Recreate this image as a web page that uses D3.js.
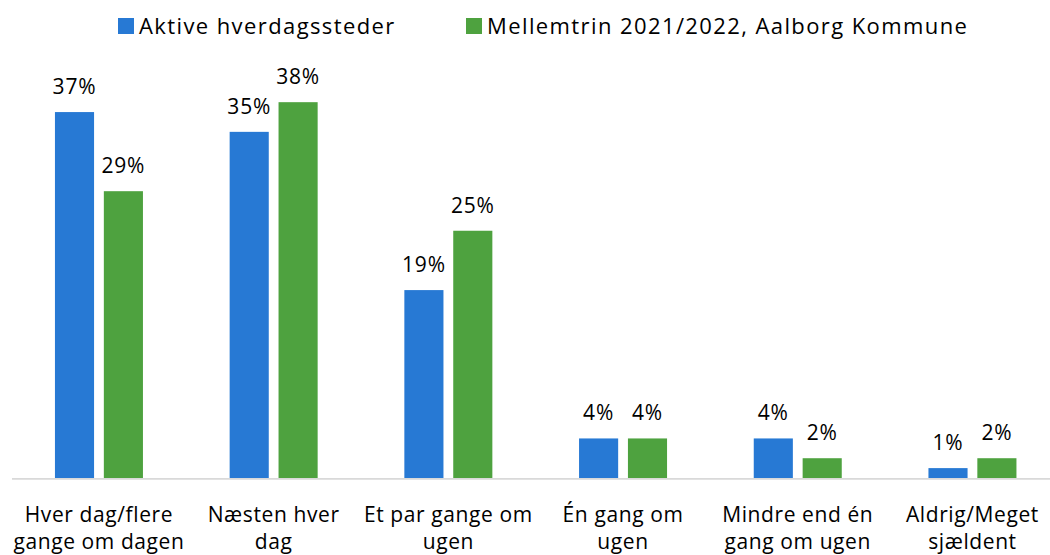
<!DOCTYPE html>
<html lang="da">
<head>
    <meta charset="UTF-8">
    <title>Aktive hverdagssteder</title>
    <style>
        body { margin: 0; background: #fff; }
        text { font-family: "Open Sans", sans-serif; fill: #000; }
    </style>
</head>
<body>
    <script src="https://d3js.org/d3.v7.min.js"></script>
    <script>
        // Data
        let categories = ["Hver dag/flere\ngange om dagen", "Næsten hver\ndag", "Et par gange om\nugen",
                          "Én gang om\nugen", "Mindre end én\ngang om ugen", "Aldrig/Meget\nsjældent"];
        let seriesNames = ["Aktive hverdagssteder", "Mellemtrin 2021/2022, Aalborg Kommune"];
        let aktiveValues = [37, 35, 19, 4, 4, 1];
        let mellemtrinValues = [29, 38, 25, 4, 2, 2];
        let colors = ["#2779d4", "#4ea23f"];

        let width = 1050, height = 555;
        let baseline = 478;

        let svg = d3.select('body')
            .append('svg')
            .attr('width', width)
            .attr('height', height);

        // Scales
        let x0 = d3.scaleBand()
            .domain(categories)
            .range([11.6, 1059.8]);

        let x1 = d3.scaleBand()
            .domain(seriesNames)
            .range([0, 88])
            .paddingInner(0.2);

        let y = d3.scaleLinear()
            .domain([0, 40])
            .range([baseline, 82.4]);

        let rows = categories.map(function(c, i) {
            return {cat: c, values: [aktiveValues[i], mellemtrinValues[i]]};
        });

        // Bars
        let groups = svg.selectAll('g.group')
            .data(rows)
            .enter()
            .append('g')
            .attr('class', 'group')
            .attr('transform', function(d) {
                return 'translate(' + (x0(d.cat) + x0.bandwidth() / 2 - 44) + ',0)';
            });

        groups.selectAll('rect')
            .data(function(d) { return d.values.map(function(v, j) { return {s: seriesNames[j], v: v, j: j}; }); })
            .enter()
            .append('rect')
            .attr('x', function(d) { return x1(d.s); })
            .attr('y', function(d) { return y(d.v); })
            .attr('width', x1.bandwidth())
            .attr('height', function(d) { return baseline - y(d.v); })
            .attr('fill', function(d) { return colors[d.j]; });

        // Value labels
        groups.selectAll('text.val')
            .data(function(d) { return d.values.map(function(v, j) { return {s: seriesNames[j], v: v}; }); })
            .enter()
            .append('text')
            .attr('class', 'val')
            .attr('x', function(d) { return x1(d.s) + x1.bandwidth() / 2; })
            .attr('y', function(d) { return y(d.v) - 18; })
            .attr('text-anchor', 'middle')
            .style('font-size', '21px')
            .style('letter-spacing', '0.8px')
            .text(function(d) { return d.v + '%'; });

        // Axis line
        svg.append('line')
            .attr('x1', 12)
            .attr('x2', width)
            .attr('y1', baseline + 0.8)
            .attr('y2', baseline + 0.8)
            .attr('stroke', '#d9d9d9')
            .attr('stroke-width', 1.8);

        // Category labels
        let catLabels = svg.selectAll('text.cat')
            .data(categories)
            .enter()
            .append('text')
            .attr('class', 'cat')
            .attr('text-anchor', 'middle')
            .attr('x', function(d) { return x0(d) + x0.bandwidth() / 2; })
            .attr('y', 522)
            .style('font-size', '21px')
            .style('letter-spacing', '0.6px');

        catLabels.selectAll('tspan')
            .data(function(d) { return d.split('\n'); })
            .enter()
            .append('tspan')
            .attr('x', function() { return d3.select(this.parentNode).attr('x'); })
            .attr('dy', function(d, i) { return i === 0 ? 0 : 27; })
            .text(function(d) { return d; });

        // Legend
        let legendX = [118, 466];
        let legend = svg.selectAll('g.legend')
            .data(seriesNames)
            .enter()
            .append('g')
            .attr('class', 'legend')
            .attr('transform', function(d, i) { return 'translate(' + legendX[i] + ',18)'; });

        legend.append('rect')
            .attr('width', 16)
            .attr('height', 16)
            .attr('fill', function(d, i) { return colors[i]; });

        legend.append('text')
            .attr('x', 21)
            .attr('y', 16)
            .style('font-size', '22px')
            .style('letter-spacing', '1.4px')
            .text(function(d) { return d; });
    </script>
</body>
</html>
